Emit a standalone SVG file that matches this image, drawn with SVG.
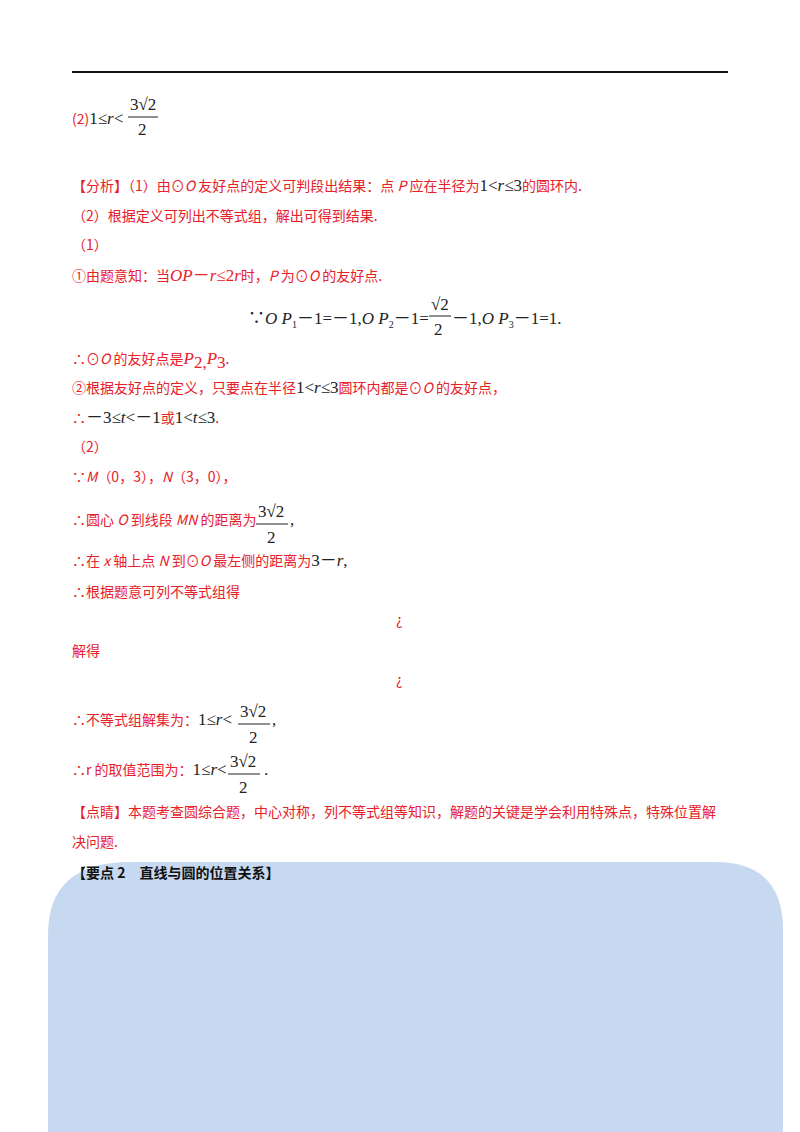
<svg xmlns="http://www.w3.org/2000/svg" width="800" height="1132" viewBox="0 0 800 1132">
<style>
.t{font-family:"Noto Sans CJK SC",sans-serif;font-size:14px;fill:#e8202a}
.m{font-family:"Liberation Serif","Noto Sans CJK SC",serif;font-size:17px;fill:#222}
.mr{font-family:"Liberation Serif","Noto Sans CJK SC",serif;font-size:17px;fill:#e8202a}
.i{font-style:italic}
.fl{stroke:#222;stroke-width:1}
</style>
<rect width="800" height="1132" fill="#fff"/>
<line x1="72" y1="72" x2="728" y2="72" stroke="#111" stroke-width="2"/>
<path d="M48 1132 V935 Q48 862 130 862 H715 Q783 862 783 930 V1132 Z" fill="#c6d9f0"/>
<g id="answer">
<text x="72" y="124" class="t">(2)<tspan class="m">1≤<tspan class="i">r</tspan>&lt;</tspan></text>
<text x="130" y="110" class="m">3√2</text><line x1="128" y1="117" x2="158" y2="117" class="fl"/><text x="138" y="135" class="m">2</text>
</g>
<g id="text">
<text x="72" y="191" class="t">【分析】（1）由⊙<tspan class="i">O</tspan> 友好点的定义可判段出结果：点 <tspan class="i">P</tspan> 应在半径为<tspan class="m">1&lt;<tspan class="i">r</tspan>≤3</tspan>的圆环内.</text>
<text x="72" y="221" class="t">（2）根据定义可列出不等式组，解出可得到结果.</text>
<text x="72" y="250" class="t">（1）</text>
<text x="72" y="281" class="t">①由题意知：当<tspan class="mr i">OP</tspan><tspan class="mr">－<tspan class="i">r</tspan>≤2<tspan class="i">r</tspan></tspan>时，<tspan class="i">P</tspan> 为⊙<tspan class="i">O</tspan> 的友好点.</text>
<text x="248" y="324" class="m" font-size="16">∵<tspan class="i">O P</tspan><tspan font-size="10" dy="4">1</tspan><tspan dy="-4">－1=－1,</tspan><tspan class="i">O P</tspan><tspan font-size="10" dy="4">2</tspan><tspan dy="-4">－1=</tspan></text>
<text x="431" y="310" class="m">√2</text><line x1="429" y1="316" x2="451" y2="316" class="fl"/><text x="434" y="335" class="m">2</text>
<text x="452" y="324" class="m" font-size="16">－1,<tspan class="i">O P</tspan><tspan font-size="10" dy="4">3</tspan><tspan dy="-4">－1=1.</tspan></text>
<text x="72" y="364" class="t">∴⊙<tspan class="i">O</tspan> 的友好点是<tspan class="mr i">P</tspan><tspan class="mr" font-size="10" dy="4">2,</tspan><tspan class="mr i" dy="-4">P</tspan><tspan class="mr" font-size="10" dy="4">3</tspan><tspan dy="-4">.</tspan></text>
<text x="72" y="393" class="t">②根据友好点的定义，只要点在半径<tspan class="m">1&lt;<tspan class="i">r</tspan>≤3</tspan>圆环内都是⊙<tspan class="i">O</tspan> 的友好点，</text>
<text x="72" y="423" class="t">∴<tspan class="m">－3≤<tspan class="i">t</tspan>&lt;－1</tspan>或<tspan class="m">1&lt;<tspan class="i">t</tspan>≤3</tspan>.</text>
<text x="72" y="452" class="t">（2）</text>
<text x="72" y="482" class="t">∵<tspan class="i">M</tspan>（0，3），<tspan class="i">N</tspan>（3，0），</text>
<text x="72" y="525" class="t">∴圆心 <tspan class="i">O</tspan> 到线段 <tspan class="i">MN</tspan> 的距离为</text>
<text x="258" y="517" class="m">3√2</text><line x1="256" y1="524" x2="288" y2="524" class="fl"/><text x="267" y="543" class="m">2</text>
<text x="290" y="525" class="m">,</text>
<text x="72" y="566" class="t">∴在 <tspan class="i">x</tspan> 轴上点 <tspan class="i">N</tspan> 到⊙<tspan class="i">O</tspan> 最左侧的距离为<tspan class="m">3－<tspan class="i">r</tspan>,</tspan></text>
<text x="72" y="597" class="t">∴根据题意可列不等式组得</text>
<text x="396" y="625" class="t">¿</text>
<text x="72" y="656" class="t">解得</text>
<text x="396" y="685" class="t">¿</text>
<text x="72" y="725" class="t">∴不等式组解集为：<tspan class="m">1≤<tspan class="i">r</tspan>&lt;</tspan></text>
<text x="240" y="717" class="m">3√2</text><line x1="238" y1="724" x2="270" y2="724" class="fl"/><text x="249" y="743" class="m">2</text>
<text x="272" y="725" class="m">,</text>
<text x="72" y="775" class="t">∴r 的取值范围为：<tspan class="m">1≤<tspan class="i">r</tspan>&lt;</tspan></text>
<text x="230" y="767" class="m">3√2</text><line x1="228" y1="774" x2="260" y2="774" class="fl"/><text x="239" y="793" class="m">2</text>
<text x="264" y="775" class="m">.</text>
<text x="72" y="817" class="t">【点睛】本题考查圆综合题，中心对称，列不等式组等知识，解题的关键是学会利用特殊点，特殊位置解</text>
<text x="72" y="847" class="t">决问题.</text>
<text x="72" y="878" style="font-family:'Noto Sans CJK SC',sans-serif;font-size:14px;font-weight:bold;fill:#111">【要点 2　直线与圆的位置关系】</text>
</g>
</svg>
